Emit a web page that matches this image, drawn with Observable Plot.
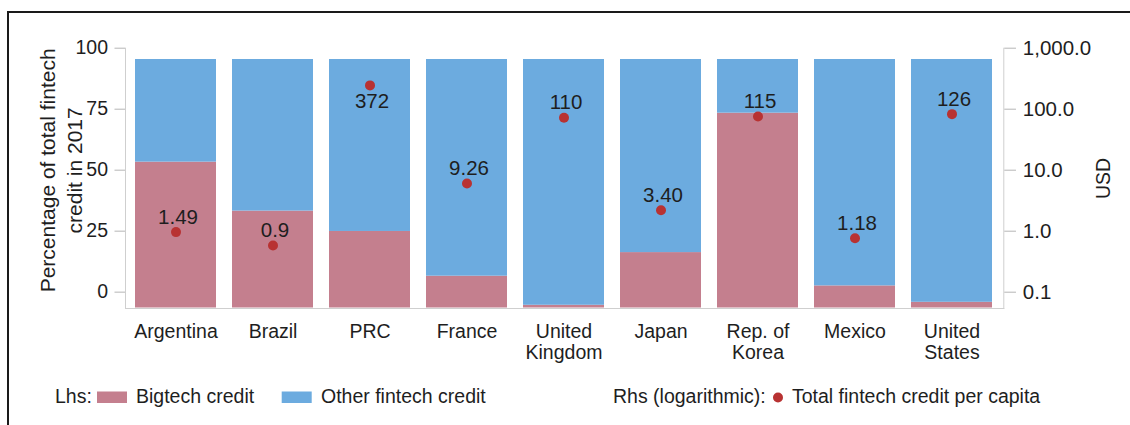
<!DOCTYPE html>
<html><head><meta charset="utf-8">
<script src="https://cdn.jsdelivr.net/npm/d3@7"></script>
<script src="https://cdn.jsdelivr.net/npm/@observablehq/plot@0.6"></script>
<style>
body{margin:0;background:#fff;}
#wrap{position:relative;width:1130px;height:425px;overflow:hidden;font-family:"Liberation Sans",Arial,sans-serif;color:#1e1e1e;background:#fff;}
#border{position:absolute;left:7px;top:11px;width:1200px;height:500px;border-top:2px solid #1a1a1a;border-left:2px solid #1a1a1a;}
</style></head>
<body><div id="wrap"><div id="border"></div></div>
<script>
// ---------------- data ----------------
const countries = ["Argentina","Brazil","PRC","France","United Kingdom","Japan","Rep. of Korea","Mexico","United States"];
const countryLabels = ["Argentina","Brazil","PRC","France","United\nKingdom","Japan","Rep. of\nKorea","Mexico","United\nStates"];
const series = ["Bigtech credit","Other fintech credit"];
const bigtechShare = [58.7, 39.0, 30.8, 12.8, 1.1, 22.3, 78.4, 8.9, 2.3];
const otherShare   = [41.3, 61.0, 69.2, 87.2, 98.9, 77.7, 21.6, 91.1, 97.7];
const perCapita = [1.49, 0.9, 372, 9.26, 110, 3.40, 115, 1.18, 126];
const perCapitaLabels = ["1.49","0.9","372","9.26","110","3.40","115","1.18","126"];
const labelSide = ["above","above","below","above","above","above","above","above","above"];
const dotSeries = "Total fintech credit per capita";
const leftTicks = [0, 25, 50, 75, 100];
const rightTicks = [0.1, 1, 10, 100, 1000];
const leftTitle = "Percentage of total fintech\ncredit in 2017";
const rightTitle = "USD";

// ---------------- styles ----------------
const FONT = '"Liberation Sans", Arial, sans-serif';
const TEXT = "#1e1e1e";
const colors = ["#c47f8e", "#6cabdf"];
const dotColor = "#b83232";
const W = 1130, H = 425;
const frameLeft = 125, frameRight = 1003.3;
const overlay = {position:"absolute", left:"0px", top:"0px", background:"transparent", overflow:"visible", fontFamily: FONT, maxWidth:"none"};
const common = {width: W, height: H, marginLeft: frameLeft, marginRight: W - frameRight, style: overlay};
const xScale = {type:"band", domain: countries, paddingInner: 0.16, paddingOuter: 0.09};
const wrap = document.getElementById("wrap");

// ---------------- bars ----------------
const rows = countries.flatMap((c, i) => [
  {country: c, type: series[0], share: bigtechShare[i]},
  {country: c, type: series[1], share: otherShare[i]}
]);
const plotBars = Plot.plot({
  ...common,
  marginTop: 59, marginBottom: H - 307.5,
  x: {...xScale},
  y: {domain: [0, 100], axis: null},
  color: {domain: series, range: colors},
  marks: [
    Plot.barY(rows, {x: "country", y: "share", fill: "type"}),
    Plot.axisX({tickSize: 0, tickPadding: 15.5, label: null, fontSize: 19.5, lineHeight: 1.05, fill: TEXT,
      tickFormat: d => countryLabels[countries.indexOf(d)]})
  ]
});
wrap.appendChild(plotBars);

// ---------------- left axis + frame ----------------
const plotLeft = Plot.plot({
  ...common,
  marginTop: 47.7, marginBottom: H - 308,
  y: {domain: [-6.7, 100], axis: null},
  marks: [
    Plot.frame({anchor: "left", stroke: "#cfcfcf"}),
    Plot.frame({anchor: "bottom", stroke: "#cfcfcf"}),
    Plot.frame({anchor: "right", stroke: "#cfcfcf"}),
    Plot.axisY({anchor: "left", ticks: leftTicks, tickSize: 10.5, tickPadding: 7, stroke: "#b5b5b5", fill: TEXT, fontSize: 19.5, label: null}),
    Plot.text([leftTitle], {text: d => d, frameAnchor: "left", textAnchor: "middle", lineAnchor: "middle", rotate: -90, dx: -65.7, dy: -8, fontSize: 21, lineHeight: 1.3, fill: TEXT})
  ]
});
wrap.appendChild(plotLeft);

// ---------------- right (log) axis ----------------
const plotRight = Plot.plot({
  ...common,
  marginTop: 47.7, marginBottom: H - 291.7,
  y: {type: "log", domain: [0.1, 1000], axis: null},
  marks: [
    Plot.axisY({anchor: "right", ticks: rightTicks, tickFormat: d3.format(",.1f"), tickSize: 11.7, tickPadding: 7.3, stroke: "#b5b5b5", fill: TEXT, fontSize: 20.5, label: null}),
    Plot.text([rightTitle], {text: d => d, frameAnchor: "right", textAnchor: "middle", lineAnchor: "middle", rotate: -90, dx: 99.7, dy: 8.3, fontSize: 19.5, fill: TEXT})
  ]
});
wrap.appendChild(plotRight);

// ---------------- dots + value labels ----------------
const dotRows = countries.map((c, i) => ({country: c, value: perCapita[i], label: perCapitaLabels[i], side: labelSide[i]}));
const plotDots = Plot.plot({
  ...common,
  marginTop: 58.6, marginBottom: H - 303.4,
  x: {...xScale, axis: null},
  y: {type: "log", domain: [0.1, 1000], axis: null},
  marks: [
    Plot.dot(dotRows, {x: "country", y: "value", r: 5, fill: dotColor, stroke: "none"}),
    Plot.text(dotRows.filter(d => d.side === "above"), {x: "country", y: "value", text: "label", dx: 2, dy: -15, fontSize: 20.5, fill: TEXT}),
    Plot.text(dotRows.filter(d => d.side === "below"), {x: "country", y: "value", text: "label", dx: 2, dy: 16, fontSize: 20.5, fill: TEXT})
  ]
});
wrap.appendChild(plotDots);

// ---------------- legend ----------------
const legend = d3.select(wrap).append("svg")
  .attr("width", W).attr("height", H)
  .style("position", "absolute").style("left", "0px").style("top", "0px")
  .style("font-family", FONT).style("font-size", "19.5px").attr("fill", TEXT);
const baseline = 403;
legend.append("text").attr("x", 55).attr("y", baseline).text("Lhs:");
[[97, 136], [281.7, 321]].forEach(([sx, tx], i) => {
  legend.append("rect").attr("x", sx).attr("y", 391.5).attr("width", 30).attr("height", 11.5).attr("fill", colors[i]);
  legend.append("text").attr("x", tx).attr("y", baseline).text(series[i]);
});
legend.append("text").attr("x", 613).attr("y", baseline).text("Rhs (logarithmic):");
legend.append("circle").attr("cx", 778).attr("cy", 397.5).attr("r", 5).attr("fill", dotColor);
legend.append("text").attr("x", 792).attr("y", baseline).text(dotSeries);
</script>
</body></html>
